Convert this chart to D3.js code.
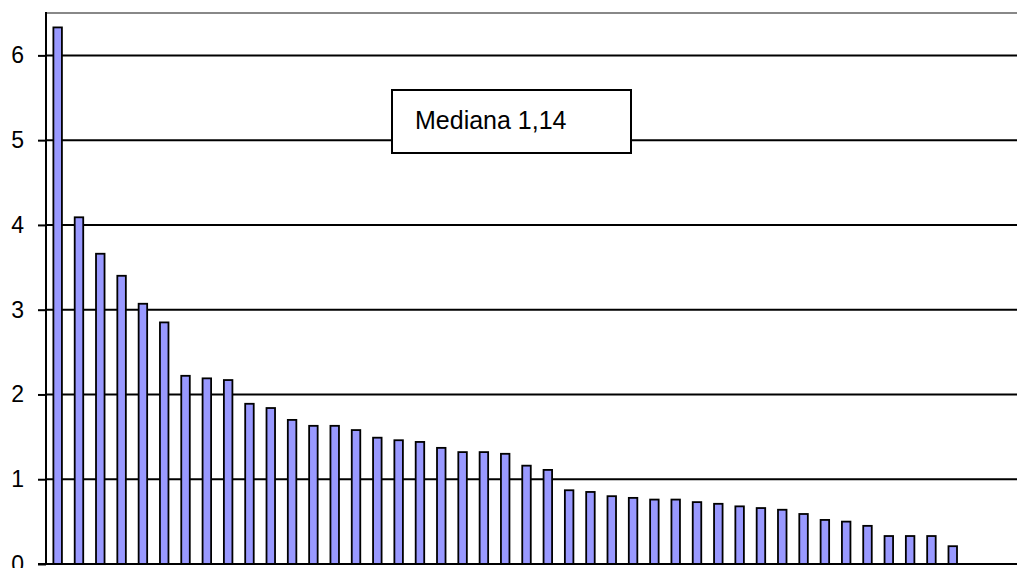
<!DOCTYPE html>
<html>
<head>
<meta charset="utf-8">
<script src="https://cdn.jsdelivr.net/npm/d3@7"></script>
<style>
  html, body { margin: 0; padding: 0; background: #fff; }
  svg { display: block; }
</style>
</head>
<body>
<svg id="chart" width="1017" height="568"></svg>
<script>
const categories = [1,2,3,4,5,6,7,8,9,10,11,12,13,14,15,16,17,18,19,20,21,22,23,24,25,26,27,28,29,30,31,32,33,34,35,36,37,38,39,40,41,42,43];
const values = [6.33,4.09,3.66,3.40,3.07,2.85,2.22,2.19,2.17,1.89,1.84,1.70,1.63,1.63,1.58,1.49,1.46,1.44,1.37,1.32,1.32,1.30,1.16,1.11,0.87,0.85,0.80,0.78,0.76,0.76,0.73,0.71,0.68,0.66,0.64,0.59,0.52,0.50,0.45,0.33,0.33,0.33,0.21];
const yTicks = [0,1,2,3,4,5,6];
const yMax = 6.5;
const annotation = "Mediana 1,14";

(function () {
const svg = d3.select("#chart");
const pLeft = 46, pTop = 13, pBottom = 564, pRight = 1020;

const x = d3.scaleBand().domain(categories).range([47, 963.4]).paddingInner(0.6).paddingOuter(0.3);
const y = d3.scaleLinear().domain([0, yMax]).range([pBottom, pTop]);

// top border
svg.append("line").attr("x1", pLeft).attr("x2", pRight).attr("y1", pTop).attr("y2", pTop)
  .attr("stroke", "#888").attr("stroke-width", 2);

// gridlines
svg.append("g").selectAll("line").data(yTicks.filter(d => d > 0)).join("line")
  .attr("x1", pLeft).attr("x2", pRight)
  .attr("y1", d => y(d)).attr("y2", d => y(d))
  .attr("stroke", "#000").attr("stroke-width", 2);

// bars
svg.append("g").selectAll("rect").data(values).join("rect")
  .attr("x", (d, i) => x(categories[i]))
  .attr("width", x.bandwidth())
  .attr("y", d => y(d))
  .attr("height", d => y(0) - y(d))
  .attr("fill", "#9999FF")
  .attr("stroke", "#000").attr("stroke-width", 1.8);

// y axis
const yAxis = d3.axisLeft(y).tickValues(yTicks).tickSize(8).tickPadding(14).tickFormat(d3.format("d"));
const ga = svg.append("g").attr("transform", `translate(${pLeft},0)`).call(yAxis);
ga.select(".domain").remove();
ga.selectAll(".tick line").attr("stroke", "#000").attr("stroke-width", 2);
ga.selectAll(".tick text").attr("font-family", "Liberation Sans, Arial, sans-serif")
  .attr("font-size", 23).attr("fill", "#000");
svg.append("line").attr("x1", pLeft).attr("x2", pLeft).attr("y1", pTop - 1).attr("y2", pBottom)
  .attr("stroke", "#000").attr("stroke-width", 2);
// x axis baseline
svg.append("line").attr("x1", pLeft - 8).attr("x2", pRight).attr("y1", y(0)).attr("y2", y(0))
  .attr("stroke", "#000").attr("stroke-width", 2);

// annotation box
const bx = 392, by = 90, bw = 239, bh = 63;
svg.append("rect").attr("x", bx).attr("y", by).attr("width", bw).attr("height", bh)
  .attr("fill", "#fff").attr("stroke", "#000").attr("stroke-width", 2);
svg.append("text").attr("x", bx + 23).attr("y", by + 39)
  .attr("font-family", "Liberation Sans, Arial, sans-serif").attr("font-size", 25)
  .attr("fill", "#000").text(annotation);
})();
</script>
</body>
</html>
